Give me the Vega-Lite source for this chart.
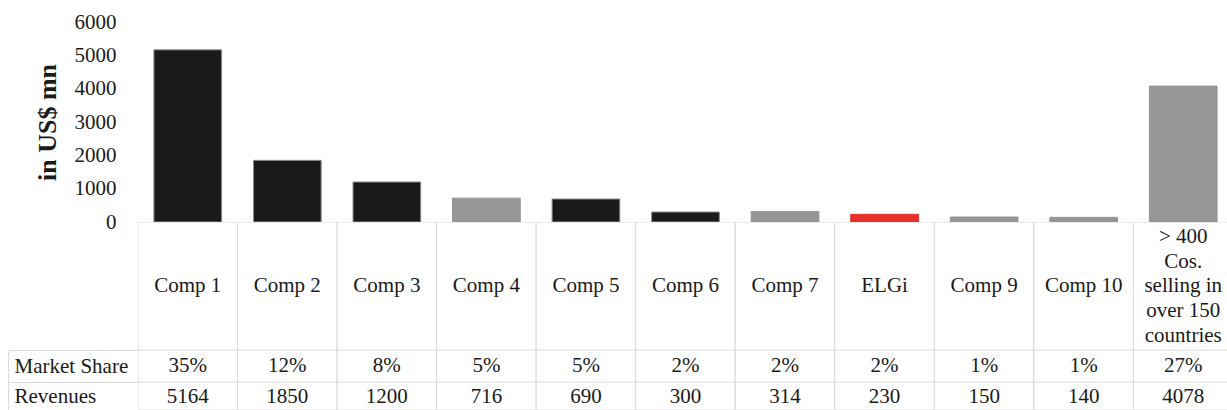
{
  "$schema": "https://vega.github.io/schema/vega-lite/v6.json",
  "padding": {"left": 7, "top": 11, "right": 0, "bottom": 0},
  "background": "white",
  "spacing": 0,
  "bounds": "flush",
  "config": {
    "view": {"stroke": null},
    "font": "Liberation Serif"
  },
  "data": {
    "values": [
      {"company": "Comp 1", "revenue": 5164, "share": 0.35, "group": "peer"},
      {"company": "Comp 2", "revenue": 1850, "share": 0.12, "group": "peer"},
      {"company": "Comp 3", "revenue": 1200, "share": 0.08, "group": "peer"},
      {"company": "Comp 4", "revenue": 716, "share": 0.05, "group": "other"},
      {"company": "Comp 5", "revenue": 690, "share": 0.05, "group": "peer"},
      {"company": "Comp 6", "revenue": 300, "share": 0.02, "group": "peer"},
      {"company": "Comp 7", "revenue": 314, "share": 0.02, "group": "other"},
      {"company": "ELGi", "revenue": 230, "share": 0.02, "group": "ELGi"},
      {"company": "Comp 9", "revenue": 150, "share": 0.01, "group": "other"},
      {"company": "Comp 10", "revenue": 140, "share": 0.01, "group": "other"},
      {"company": "> 400\nCos.\nselling in\nover 150\ncountries", "revenue": 4078, "share": 0.27, "group": "other"}
    ]
  },
  "vconcat": [
    {
      "width": 1090,
      "height": 200,
      "mark": {"type": "bar", "width": {"band": 0.68}, "strokeWidth": 1, "clip": true},
      "encoding": {
        "x": {
          "field": "company", "type": "nominal", "sort": null, "axis": null,
          "scale": {"range": [0, 1095], "paddingInner": 0, "paddingOuter": 0}
        },
        "y": {
          "field": "revenue", "type": "quantitative",
          "scale": {"domain": [0, 6000]},
          "axis": {
            "values": [0, 1000, 2000, 3000, 4000, 5000, 6000],
            "format": "d",
            "grid": false, "domain": false, "ticks": false,
            "labelFont": "Liberation Serif", "labelFontSize": 21, "labelColor": "#1a1a1a",
            "labelPadding": 22,
            "title": "in US$ mn",
            "titleFont": "Liberation Serif", "titleFontSize": 26, "titleFontWeight": "bold",
            "titleColor": "#1a1a1a", "titlePadding": 14
          }
        },
        "fill": {
          "field": "group", "type": "nominal", "legend": null,
          "scale": {"domain": ["peer", "other", "ELGi"], "range": ["#1c1a19", "#969696", "#e8312a"]}
        },
        "stroke": {
          "field": "group", "type": "nominal", "legend": null,
          "scale": {"domain": ["peer", "other", "ELGi"], "range": ["#8c8c8c", "#969696", "#e8312a"]}
        }
      }
    },
    {
      "width": 1090,
      "height": 128,
      "encoding": {
        "x": {
          "field": "company", "type": "nominal", "sort": null, "axis": null,
          "scale": {"range": [0, 1095], "paddingInner": 0, "paddingOuter": 0}
        }
      },
      "layer": [
        {"mark": {"type": "rect", "fill": "white", "stroke": "#d9d9d9", "strokeWidth": 1, "clip": true}},
        {
          "transform": [{"filter": "indexof(datum.company, '\\n') < 0"}],
          "mark": {
            "type": "text", "font": "Liberation Serif", "fontSize": 21, "color": "#1a1a1a",
            "baseline": "middle", "clip": true
          },
          "encoding": {"text": {"field": "company"}}
        },
        {
          "transform": [{"filter": "indexof(datum.company, '\\n') >= 0"}],
          "mark": {
            "type": "text", "font": "Liberation Serif", "fontSize": 21, "color": "#1a1a1a",
            "baseline": "middle", "lineBreak": "\n", "lineHeight": 24.7, "dy": -49, "clip": true
          },
          "encoding": {"text": {"field": "company"}}
        }
      ]
    },
    {
      "width": 1090,
      "height": 32,
      "encoding": {
        "x": {
          "field": "company", "type": "nominal", "sort": null, "axis": null,
          "scale": {"range": [0, 1095], "paddingInner": 0, "paddingOuter": 0}
        },
        "y": {
          "datum": "Market Share", "type": "nominal",
          "scale": {"paddingInner": 0, "paddingOuter": 0},
          "axis": {
            "title": null, "offset": 130, "domainColor": "#d9d9d9", "tickColor": "#d9d9d9",
            "tickSize": -130, "tickBand": "extent", "labelAlign": "left", "labelPadding": 124,
            "labelFont": "Liberation Serif", "labelFontSize": 21, "labelColor": "#1a1a1a"
          }
        }
      },
      "layer": [
        {"mark": {"type": "rect", "fill": "white", "stroke": "#d9d9d9", "strokeWidth": 1, "clip": true}},
        {
          "mark": {"type": "text", "font": "Liberation Serif", "fontSize": 21, "color": "#1a1a1a", "baseline": "middle", "clip": true},
          "encoding": {"text": {"field": "share", "format": ".0%"}}
        }
      ]
    },
    {
      "width": 1090,
      "height": 28,
      "encoding": {
        "x": {
          "field": "company", "type": "nominal", "sort": null, "axis": null,
          "scale": {"range": [0, 1095], "paddingInner": 0, "paddingOuter": 0}
        },
        "y": {
          "datum": "Revenues", "type": "nominal",
          "scale": {"paddingInner": 0, "paddingOuter": 0},
          "axis": {
            "title": null, "offset": 130, "domainColor": "#d9d9d9", "tickColor": "#d9d9d9",
            "tickSize": -130, "tickBand": "extent", "labelAlign": "left", "labelPadding": 124,
            "labelFont": "Liberation Serif", "labelFontSize": 21, "labelColor": "#1a1a1a"
          }
        }
      },
      "layer": [
        {"mark": {"type": "rect", "fill": "white", "stroke": "#d9d9d9", "strokeWidth": 1, "clip": true}},
        {
          "mark": {"type": "text", "font": "Liberation Serif", "fontSize": 21, "color": "#1a1a1a", "baseline": "middle", "dy": 1, "clip": true},
          "encoding": {"text": {"field": "revenue", "type": "quantitative", "format": "d"}}
        }
      ]
    }
  ]
}
